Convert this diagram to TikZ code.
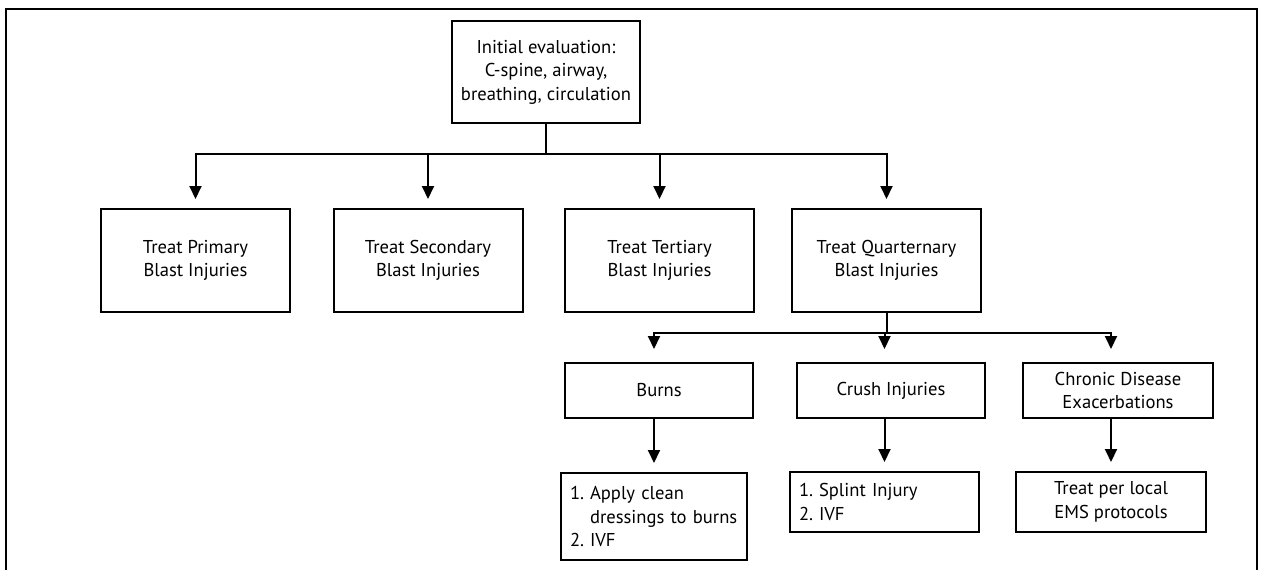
\documentclass[tikz,border=0pt]{standalone}
\usepackage{fontspec}
\setmainfont{PT Sans}
\usetikzlibrary{arrows.meta}
\begin{document}
\begin{tikzpicture}[x=1pt,y=-1pt,
  box/.style={draw, line width=2pt, align=center, inner sep=0pt,
    font=\fontsize{18.6}{23.5}\selectfont},
  lbox/.style={draw, line width=2pt, align=left, inner ysep=0pt, inner xsep=9pt,
    font=\fontsize{18.6}{23.5}\selectfont},
  arr/.style={-{Triangle[length=13pt,width=12pt]}, line width=2pt},
  ln/.style={line width=2pt, line cap=rect}]
\useasboundingbox (0,0) rectangle (1262,570);
\draw[line width=2pt] (6,580) -- (6,9) -- (1257,9) -- (1257,580);

\node[box, minimum width=188pt, minimum height=102pt] (init) at (546,72)
  {Initial evaluation:\\C-spine, airway,\\breathing, circulation};

\node[box, minimum width=189pt, minimum height=103pt] (p1) at (195.5,260.5) {Treat Primary\\Blast Injuries};
\node[box, minimum width=189pt, minimum height=103pt] (p2) at (428,260.5) {Treat Secondary\\Blast Injuries};
\node[box, minimum width=189pt, minimum height=103pt] (p3) at (659.5,260.5) {Treat Tertiary\\Blast Injuries};
\node[box, minimum width=189pt, minimum height=103pt] (p4) at (886.5,260.5) {Treat Quarternary\\Blast Injuries};

\node[box, minimum width=188pt, minimum height=55pt] (burns) at (659,390.5) {Burns};
\node[box, minimum width=188pt, minimum height=55pt] (crush) at (891,390.5) {Crush Injuries};
\node[box, minimum width=190pt, minimum height=55pt] (chronic) at (1118,390.5) {Chronic Disease\\Exacerbations};

\node[lbox, text width=168pt, minimum height=87pt] (b1) at (654,516.5)
  {\makebox[20pt][l]{1.}Apply clean\\\hspace*{20pt}dressings to burns\\\makebox[20pt][l]{2.}IVF};
\node[lbox, text width=171pt, minimum height=60pt] (b2) at (884.5,502)
  {\makebox[20pt][l]{1.}Splint Injury\\\makebox[20pt][l]{2.}IVF};
\node[box, minimum width=190pt, minimum height=60pt] (b3) at (1111,502)
  {Treat per local\\EMS protocols};

\coordinate (bar1) at (0,154);
\coordinate (bar2) at (0,333);

\draw[ln] (init.south) -- (init.south |- bar1);
\draw[ln] (p1.north |- bar1) -- (p4.north |- bar1);
\foreach \n in {p1,p2,p3,p4}
  \draw[arr, shorten >=9pt] (\n.north |- bar1) -- (\n.north);

\draw[ln] (p4.south) -- (p4.south |- bar2);
\draw[ln] (b1.north |- bar2) -- (b3.north |- bar2);
\draw[arr, shorten >=13pt] (b1.north |- bar2) -- (b1.north |- burns.north);
\draw[arr, shorten >=13pt] (b2.north |- bar2) -- (b2.north |- crush.north);
\draw[arr, shorten >=13pt] (b3.north |- bar2) -- (b3.north |- chronic.north);

\draw[arr, shorten >=9pt] (b1.north |- burns.south) -- (b1.north);
\draw[arr, shorten >=9pt] (b2.north |- crush.south) -- (b2.north);
\draw[arr, shorten >=9pt] (b3.north |- chronic.south) -- (b3.north);
\end{tikzpicture}
\end{document}
